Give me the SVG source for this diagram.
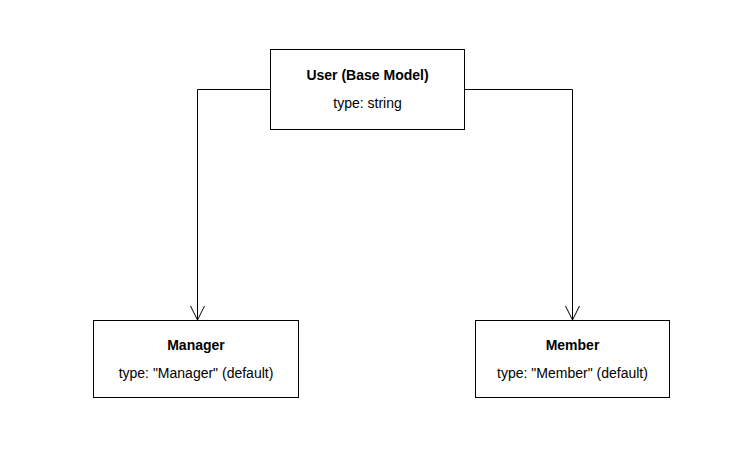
<svg xmlns="http://www.w3.org/2000/svg" width="746" height="465" viewBox="0 0 746 465">
<defs>
<style>
.box{fill:#fff;stroke:#000;stroke-width:1}
.t{font-family:"Liberation Sans",Arial,sans-serif;font-size:14px;fill:#000;text-anchor:middle}
.b{font-weight:bold}
.c{fill:none;stroke:#000;stroke-width:1}
</style>
<marker id="arr" markerWidth="16" markerHeight="16" viewBox="-15 -8 16 16" refX="0" refY="0" orient="auto" markerUnits="userSpaceOnUse">
<path d="M-14,-7 L0,0 L-14,7" fill="none" stroke="#000" stroke-width="1"/>
</marker>
</defs>
<rect width="746" height="465" fill="#fff"/>
<g id="connectors">
<path class="c" d="M270.5,89.5 H197.5 V320" marker-end="url(#arr)"/>
<path class="c" d="M464.5,89.5 H572.5 V320" marker-end="url(#arr)"/>
</g>
<g id="user">
<rect class="box" x="270.5" y="49.5" width="194" height="80"/>
<text class="t b" x="367.5" y="80">User (Base Model)</text>
<text class="t" x="367.5" y="108">type: string</text>
</g>
<g id="manager">
<rect class="box" x="93.5" y="320.5" width="205" height="77"/>
<text class="t b" x="196" y="350">Manager</text>
<text class="t" x="196" y="378">type: "Manager" (default)</text>
</g>
<g id="member">
<rect class="box" x="475.5" y="320.5" width="194" height="77"/>
<text class="t b" x="572.5" y="350">Member</text>
<text class="t" x="572.5" y="378">type: "Member" (default)</text>
</g>
</svg>
